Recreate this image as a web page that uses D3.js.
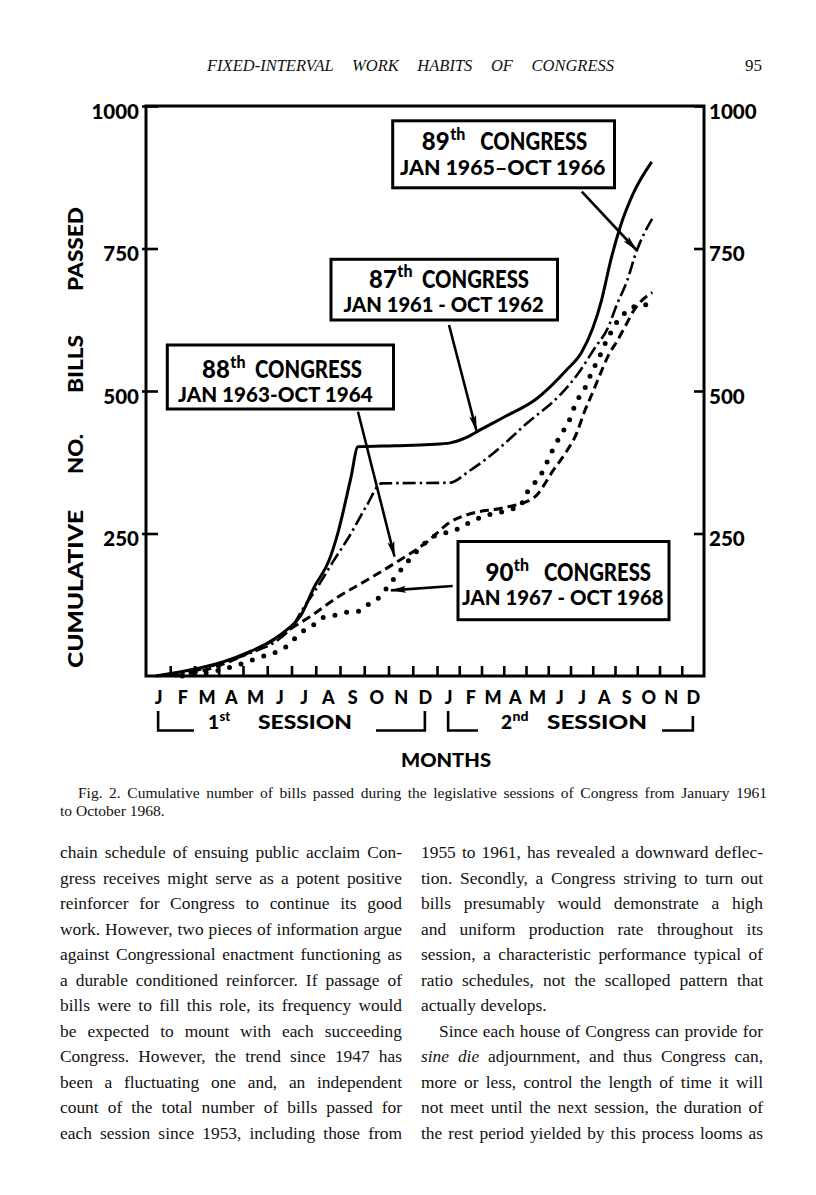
<!DOCTYPE html>
<html><head><meta charset="utf-8">
<script src="https://cdn.jsdelivr.net/npm/d3@7"></script>
<style>
body{margin:0;background:#fff;}
svg{display:block;}
</style></head><body>
<svg id="page" width="816" height="1195"></svg>
<script>
// ---------------- DATA ----------------
const monthLetters = ["J","F","M","A","M","J","J","A","S","O","N","D","J","F","M","A","M","J","J","A","S","O","N","D"];
const yTickValues = [250, 500, 750, 1000];
const monthBoundaries = d3.range(1, 24);
// [months since start of 1st session, cumulative bills passed]
const congress87 = [[0.4,0],[2.2,14],[3.2,25],[4.3,43],[5.1,60],[5.8,81],[6.35,104],[6.95,157],[7.55,203],[7.9,249],[8.45,348],[8.74,402],[10.25,404],[11.7,406],[12.6,409],[13.3,418],[14.0,433],[15.0,454],[16.46,486],[17.8,536],[18.5,568],[19.0,610],[19.4,660],[19.8,728],[20.25,790],[20.8,845],[21.65,902]];
const congress88 = [[1.2,0],[2,6],[3,18],[4.2,40],[5.3,64],[6.0,84],[6.76,104],[7.86,137],[9.1,168],[10.34,200],[11.58,235],[12.59,270],[13.62,286],[14.84,294],[16.33,312],[17.23,361],[17.77,391],[18.3,428],[18.6,461],[18.98,496],[19.35,531],[19.71,563],[20.1,588],[20.48,615],[20.84,641],[21.68,673]];
const congress89 = [[0.8,0],[2,9],[3.2,24],[4.4,42],[5.4,62],[6.0,85],[6.49,119],[7.04,154],[7.72,201],[8.41,247],[9.1,299],[9.72,338],[12.54,339],[13.5,361],[14.6,393],[16.0,442],[17.6,496],[18.35,531],[19.1,576],[19.66,609],[20.1,653],[20.55,694],[20.93,741],[21.73,806]];
const congress90 = [[1.5,0],[3,10],[4.5,30],[5.94,57],[6.35,75],[6.89,89],[7.25,102],[7.86,107],[8.3,112],[8.82,114],[9.24,128],[9.65,139],[9.99,158],[10.4,180],[10.74,198],[11.22,221],[11.71,241],[12.21,250],[12.66,253],[13.26,265],[13.64,273],[14.24,282],[14.76,286],[15.22,292],[15.67,295],[16.05,322],[16.35,337],[16.65,352],[16.93,374],[17.18,395],[17.55,422],[17.94,448],[18.23,478],[18.67,507],[18.99,536],[19.29,559],[19.52,580],[19.74,597],[20.03,618],[20.34,632],[20.64,645],[21.15,650],[21.6,652]];
const congressNames = ["87","88","89","90"];
const congressPeriods = ["JAN 1961 - OCT 1962","JAN 1963-OCT 1964","JAN 1965\u2013OCT 1966","JAN 1967 - OCT 1968"];

const headerText = "FIXED-INTERVAL WORK HABITS OF CONGRESS";
const pageNumber = "95";
const captionLines = ["Fig. 2. Cumulative number of bills passed during the legislative sessions of Congress from January 1961","to October 1968."];
const leftColumn = [
 "chain schedule of ensuing public acclaim Con-",
 "gress receives might serve as a potent positive",
 "reinforcer for Congress to continue its good",
 "work. However, two pieces of information argue",
 "against Congressional enactment functioning as",
 "a durable conditioned reinforcer. If passage of",
 "bills were to fill this role, its frequency would",
 "be expected to mount with each succeeding",
 "Congress. However, the trend since 1947 has",
 "been a fluctuating one and, an independent",
 "count of the total number of bills passed for",
 "each session since 1953, including those from"];
const rightColumn = [
 "1955 to 1961, has revealed a downward deflec-",
 "tion. Secondly, a Congress striving to turn out",
 "bills presumably would demonstrate a high",
 "and uniform production rate throughout its",
 "session, a characteristic performance typical of",
 "ratio schedules, not the scalloped pattern that",
 "actually develops.",
 "Since each house of Congress can provide for",
 "*sine die* adjournment, and thus Congress can,",
 "more or less, control the length of time it will",
 "not meet until the next session, the duration of",
 "the rest period yielded by this process looms as"];

// ---------------- LAYOUT ----------------
const svg = d3.select("#page");
const BOLD = "Lato, 'Open Sans', 'DejaVu Sans', sans-serif";
const SERIF = "'Liberation Serif', 'DejaVu Serif', serif";

const x = d3.scaleLinear().domain([0, 12, 24]).range([146, 437, 704]);
const y = d3.scaleLinear().domain([0, 1000]).range([676, 106]);

function justified(g, str, x0, yb, width, size, family, italic, justify) {
  const t = g.append("text").attr("x", x0).attr("y", yb)
    .style("font-family", family).style("font-size", size + "px").attr("fill", "#111");
  if (italic) t.style("font-style", "italic");
  const parts = str.split("*");
  parts.forEach((p, i) => { if (p.length) { const ts = t.append("tspan").text(p); if (i % 2 === 1) ts.style("font-style", "italic"); } });
  if (justify) {
    const nat = t.node().getComputedTextLength();
    const plain = parts.join("");
    const spaces = (plain.match(/ /g) || []).length;
    const ws = (width - nat) / spaces;
    if (spaces > 0) {
      if (ws >= -0.5) t.style("word-spacing", ws + "px");
      else t.attr("textLength", width).attr("lengthAdjust", "spacingAndGlyphs");
    }
  }
  return t;
}
const hg = svg.append("g");
justified(hg, headerText, 207, 71, 407, 16.5, SERIF, true, true);
justified(hg, pageNumber, 745, 71, 0, 17, SERIF, false, false);

// frame
svg.append("rect").attr("x", x(0)).attr("y", y(1000)).attr("width", x(24) - x(0)).attr("height", y(0) - y(1000))
  .attr("fill", "none").attr("stroke", "#000").attr("stroke-width", 3);

// axes
function styleAxis(g, size) {
  g.select(".domain").remove();
  g.selectAll(".tick line").attr("stroke", "#000").attr("stroke-width", 2.6);
  g.selectAll(".tick text").attr("fill", "#000").style("font-family", BOLD).style("font-weight", 900).style("font-size", size + "px");
}
const ya = svg.append("g").attr("transform", `translate(${x(0)},0)`)
  .call(d3.axisLeft(y).tickValues(yTickValues).tickSize(-12).tickPadding(7).tickFormat(d3.format("d")));
styleAxis(ya, 20.5); ya.selectAll(".tick text").attr("dy", "0.6em"); ya.selectAll(".tick line").attr("x1", -4);
const yb = svg.append("g").attr("transform", `translate(${x(24)},0)`)
  .call(d3.axisRight(y).tickValues(yTickValues).tickSize(-10).tickPadding(5).tickFormat(d3.format("d")));
styleAxis(yb, 20.5); yb.selectAll(".tick text").attr("dy", "0.6em");

const xa = svg.append("g").attr("transform", `translate(0,${y(0) - 1})`)
  .call(d3.axisBottom(x).tickValues(monthBoundaries).tickSize(-9).tickFormat(""));
styleAxis(xa, 10);
const xl = svg.append("g").attr("transform", `translate(0,${y(0) - 1})`)
  .call(d3.axisBottom(x).tickValues(d3.range(24).map(i => i + 0.5)).tickSize(0).tickPadding(16).tickFormat((d, i) => monthLetters[i]));
styleAxis(xl, 18);

// session brackets
const br = svg.append("g").attr("fill", "none").attr("stroke", "#000").attr("stroke-width", 2.6);
br.append("path").attr("d", `M${x(0.5)},711V730.5H194`);
br.append("path").attr("d", `M376,730.5H${x(11.5)}V711`);
br.append("path").attr("d", `M${x(12.5)},711V730.5H478`);
br.append("path").attr("d", `M662,730.5H${x(23.5)}V716`);

function supLabel(g, big, sup, rest, x1, x2, yb, bigSize, supSize, restWidth) {
  const a = g.append("text").attr("x", x1).attr("y", yb).text(big)
    .style("font-family", BOLD).style("font-weight", 900).style("font-size", bigSize + "px");
  const w = a.node().getComputedTextLength();
  g.append("text").attr("x", x1 + w + 0.5).attr("y", yb - bigSize * 0.42).text(sup)
    .style("font-family", BOLD).style("font-weight", 900).style("font-size", supSize + "px");
  g.append("text").attr("x", x2).attr("y", yb).attr("text-anchor", "end").text(rest)
    .attr("textLength", restWidth).attr("lengthAdjust", "spacingAndGlyphs")
    .style("font-family", BOLD).style("font-weight", 900).style("font-size", bigSize + "px");
}
const sl = svg.append("g").attr("fill", "#000");
supLabel(sl, "1", "st", "SESSION", 208, 352, 728.5, 19, 13, 94);
supLabel(sl, "2", "nd", "SESSION", 501, 647, 728.5, 19, 14, 100);
sl.append("text").attr("x", 401).attr("y", 767).text("MONTHS").attr("textLength", 90).attr("lengthAdjust", "spacingAndGlyphs")
  .style("font-family", BOLD).style("font-weight", 900).style("font-size", "19px");

// y axis title
const yTitle = [["CUMULATIVE", 589, 158], ["NO.", 454, 40], ["BILLS", 364, 58], ["PASSED", 249, 84]];
yTitle.forEach(([w, cy, len]) => {
  svg.append("text").attr("transform", `translate(76,${cy}) rotate(-90)`).attr("text-anchor", "middle").attr("dy", "0.36em")
    .text(w).attr("textLength", len).attr("lengthAdjust", "spacingAndGlyphs")
    .style("font-family", BOLD).style("font-weight", 900).style("font-size", "20px");
});

// series
const line = d3.line().x(d => x(d[0])).y(d => y(d[1])).curve(d3.curveMonotoneX);
const series = [
  {data: congress87, dash: null, w: 3, cap: "butt"},
  {data: congress89, dash: "13,4,2.5,4", w: 2.6, cap: "butt"},
  {data: congress88, dash: "9,5", w: 3, cap: "butt"},
  {data: congress90, dash: "0,12", w: 5, cap: "round"}
];
svg.append("g").selectAll("path").data(series).join("path")
  .attr("d", s => line(s.data)).attr("fill", "none").attr("stroke", "#000")
  .attr("stroke-width", s => s.w).attr("stroke-dasharray", s => s.dash).attr("stroke-linecap", s => s.cap)
  .attr("stroke-linejoin", "round");

// annotations (page layout)
svg.append("defs").append("marker").attr("id", "ah").attr("markerUnits", "userSpaceOnUse")
  .attr("viewBox", "0 0 16 8").attr("refX", 15).attr("refY", 4).attr("markerWidth", 16).attr("markerHeight", 8)
  .attr("orient", "auto").append("path").attr("d", "M0,0.5L16,4L0,7.5L3,4Z").attr("fill", "#000");

const annotations = [
  {i: 0, box: [331, 259.3, 557.5, 320], l1: [369, 529, 287.5], l2: [343.6, 543.6, 312], arrow: [449, 325, 476.4, 430.5]},
  {i: 1, box: [167.3, 345, 393.5, 409], l1: [202, 362, 378], l2: [178, 372.7, 402], arrow: [358, 411.7, 394.5, 556.5]},
  {i: 2, box: [392.7, 120.8, 614.5, 187.8], l1: [421.8, 587.3, 150], l2: [400, 605.5, 174.6], arrow: [581.8, 191.6, 636.4, 250]},
  {i: 3, box: [458, 541.5, 669, 619.7], l1: [485.5, 651, 581], l2: [462, 663.6, 605.4], arrow: [452.7, 586, 391, 590.4]}
];
const ag = svg.append("g");
annotations.forEach(a => {
  ag.append("line").attr("x1", a.arrow[0]).attr("y1", a.arrow[1]).attr("x2", a.arrow[2]).attr("y2", a.arrow[3])
    .attr("stroke", "#000").attr("stroke-width", 2.6).attr("marker-end", "url(#ah)");
  ag.append("rect").attr("x", a.box[0]).attr("y", a.box[1]).attr("width", a.box[2] - a.box[0]).attr("height", a.box[3] - a.box[1])
    .attr("fill", "#fff").attr("stroke", "#000").attr("stroke-width", 3);
  supLabel(ag, congressNames[a.i], "th", "CONGRESS", a.l1[0], a.l1[1], a.l1[2], 24, 16, 107);
  ag.append("text").attr("x", a.l2[0]).attr("y", a.l2[2]).text(congressPeriods[a.i])
    .attr("textLength", a.l2[1] - a.l2[0]).attr("lengthAdjust", "spacingAndGlyphs")
    .style("font-family", BOLD).style("font-weight", 900).style("font-size", "20px");
});

// caption & body text
const tg = svg.append("g");
justified(tg, captionLines[0], 78, 798, 689, 15.5, SERIF, false, true);
justified(tg, captionLines[1], 60, 816, 0, 15.5, SERIF, false, false);
leftColumn.forEach((s, i) => justified(tg, s, 60, 858 + i * 25.5, 342, 17.4, SERIF, false, true));
rightColumn.forEach((s, i) => {
  const indent = i === 7 ? 18 : 0;
  const just = i !== 6;
  justified(tg, s, 421 + indent, 858 + i * 25.5, 342 - indent, 17.4, SERIF, false, just);
});
</script>
</body></html>
